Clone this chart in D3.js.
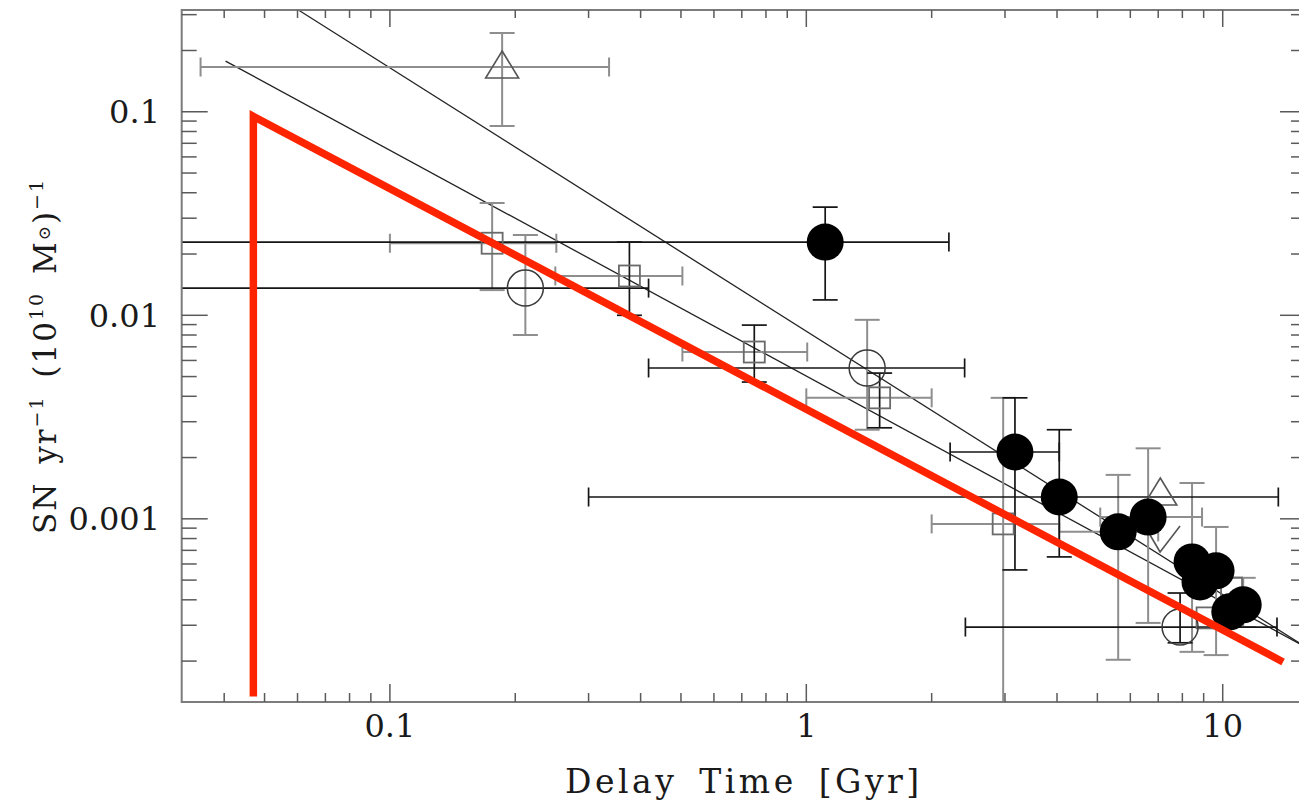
<!DOCTYPE html>
<html><head><meta charset="utf-8">
<script src="https://cdn.jsdelivr.net/npm/d3@7"></script>
<style>html,body{margin:0;padding:0;background:#fff;} svg{display:block;}</style>
</head><body>
<svg id="chart" width="1299" height="804"></svg>
<script>
// ---- axis ranges and tick labels ----
const xDomain = [Math.pow(10, -1.5), Math.pow(10, 1.2)];
const yDomain = [Math.pow(10, -3.9), Math.pow(10, -0.5)];
const xMajorTicks = [0.1, 1, 10];
const xMajorLabels = ["0.1", "1", "10"];
const yMajorTicks = [0.1, 0.01, 0.001];
const yMajorLabels = ["0.1", "0.01", "0.001"];

// ---- power-law fits, endpoints as [delay Gyr, rate] ----
const fitSteep = [[0.0603, 0.316], [15.85, 0.000234]];
const fitShallow = [[0.0403, 0.1774], [15.85, 0.000234]];
// model delay-time distribution (red)
const modelDTD = [[0.047, 0.000134], [0.047, 0.095], [13.96, 0.000198]];

// ---- measurements: [t, rate, tLo, tHi, rLo, rHi, xBarColour, yBarColour] ----
// "k" = black bars, "g" = grey bars, null = no bar
const filledCircles = [
  [1.11, 0.0229, 0.02, 2.20, 0.0119, 0.034, "k", "k"],
  [3.17, 0.00213, 2.215, 4.05, 0.000561, 0.00393, "k", "k"],
  [4.05, 0.00128, 0.30, 13.6, 0.00065, 0.00274, "k", "k"],
  [5.61, 0.000863, 4.05, 7.0, 0.000203, 0.001644, "g", "g"],
  [6.62, 0.00102, 5.08, 8.92, 0.000308, 0.00222, "g", "g"],
  [8.44, 0.000614, null, null, 0.000222, 0.0015, null, "g"],
  [8.82, 0.000490, null, null, null, null, null, null],
  [9.64, 0.000555, null, null, 0.000214, 0.000912, null, "g"],
  [10.4, 0.000349, null, null, null, null, null, null],
  [11.2, 0.000378, null, null, 0.000294, 0.000513, null, "g"]
];
const openCircles = [
  [0.2115, 0.0136, 0.02, 0.418, 0.0080, 0.0248, "k", "g"],
  [1.40, 0.00551, 0.418, 2.40, 0.00274, 0.0095, "k", "g"],
  [7.90, 0.000294, 2.41, 13.5, 0.000246, 0.000432, "k", "k"]
];
const openSquares = [
  [0.176, 0.0226, 0.1, 0.251, 0.0133, 0.0356, "g", "g"],
  [0.376, 0.0156, 0.2496, 0.504, 0.0100, 0.0229, "g", "k"],
  [0.75, 0.0066, 0.504, 1.005, 0.0047, 0.00895, "g", "k"],
  [1.50, 0.00393, 1.0, 2.0, 0.0028, 0.0052, "g", "k"],
  [2.97, 0.000944, 2.0, 4.05, 0.00008, 0.00393, "g", "g"],
  [9.17, 0.000326, null, null, null, null, null, null],
  [10.5, 0.000457, null, null, null, null, null, null]
];
const openTriangles = [
  [0.186, 0.166, 0.0351, 0.336, 0.0851, 0.2438, "g", "g"],
  [7.08, 0.001324, null, null, null, null, null, null]
];
const openChecks = [
  [7.15, 0.000787]
];

// ---- layout ----
const plot = {left: 181.7, right: 1306, top: 10, bottom: 702};
const svg = d3.select("#chart");
const x = d3.scaleLog().domain(xDomain).range([plot.left, plot.right]);
const y = d3.scaleLog().domain(yDomain).range([plot.bottom, plot.top]);

const FONT = "'DejaVu Serif', serif";
const BLACK = "#151515", GREY = "#8e8e8e";
const barColour = c => c === "k" ? BLACK : GREY;

svg.append("defs").append("clipPath").attr("id", "plotClip")
  .append("rect").attr("x", plot.left).attr("y", plot.top)
  .attr("width", plot.right - plot.left).attr("height", plot.bottom - plot.top);

const inner = svg.append("g").attr("clip-path", "url(#plotClip)");

// ---- fits ----
const line = d3.line().x(d => x(d[0])).y(d => y(d[1]));
[fitSteep, fitShallow].forEach(f => {
  inner.append("path").datum(f).attr("d", line)
    .attr("fill", "none").attr("stroke", "#222").attr("stroke-width", 1.3);
});

// ---- error bars ----
const allPts = [].concat(filledCircles, openCircles, openSquares, openTriangles);
const bars = inner.append("g").attr("fill", "none");
function drawBars(colourKey) {
  allPts.forEach(p => {
    const [t, r, tLo, tHi, rLo, rHi, xc, yc] = p;
    const cx = x(t), cy = y(r);
    if (xc === colourKey && tLo != null) {
      const col = barColour(xc), w = xc === "k" ? 1.7 : 2;
      bars.append("line").attr("x1", x(tLo)).attr("x2", x(tHi)).attr("y1", cy).attr("y2", cy)
        .attr("stroke", col).attr("stroke-width", w);
      [tLo, tHi].forEach(v => bars.append("line").attr("x1", x(v)).attr("x2", x(v))
        .attr("y1", cy - 9.5).attr("y2", cy + 9.5).attr("stroke", col).attr("stroke-width", w));
    }
    if (yc === colourKey && rLo != null) {
      const col = barColour(yc), w = yc === "k" ? 1.7 : 2;
      bars.append("line").attr("x1", cx).attr("x2", cx).attr("y1", y(rLo)).attr("y2", y(rHi))
        .attr("stroke", col).attr("stroke-width", w);
      [rLo, rHi].forEach(v => bars.append("line").attr("x1", cx - 12.5).attr("x2", cx + 12.5)
        .attr("y1", y(v)).attr("y2", y(v)).attr("stroke", col).attr("stroke-width", w));
    }
  });
}
drawBars("g");
drawBars("k");

// ---- open markers ----
inner.append("g").selectAll("rect").data(openSquares).join("rect")
  .attr("x", d => x(d[0]) - 10.5).attr("y", d => y(d[1]) - 10.5)
  .attr("width", 21).attr("height", 21)
  .attr("fill", "none").attr("stroke", "#6a6a6a").attr("stroke-width", 1.8);

inner.append("g").selectAll("circle").data(openCircles).join("circle")
  .attr("cx", d => x(d[0])).attr("cy", d => y(d[1])).attr("r", 18)
  .attr("fill", "none").attr("stroke", "#3a3a3a").attr("stroke-width", 1.5);

inner.append("g").selectAll("path.tri").data(openTriangles).join("path")
  .attr("class", "tri")
  .attr("d", d => { const cx = x(d[0]), cy = y(d[1]);
    return `M${cx},${cy - 16}L${cx + 16.5},${cy + 11}L${cx - 16.5},${cy + 11}Z`; })
  .attr("fill", "none").attr("stroke", "#555").attr("stroke-width", 1.6);

inner.append("g").selectAll("path.chk").data(openChecks).join("path")
  .attr("class", "chk")
  .attr("d", d => { const cx = x(d[0]), cy = y(d[1]);
    return `M${cx - 12},${cy - 5}L${cx - 2},${cy + 12}L${cx + 18},${cy - 14}`; })
  .attr("fill", "none").attr("stroke", "#555").attr("stroke-width", 1.6);

// ---- filled circles ----
inner.append("g").selectAll("circle").data(filledCircles).join("circle")
  .attr("cx", d => x(d[0])).attr("cy", d => y(d[1])).attr("r", 18.5)
  .attr("fill", "#000");

// ---- model DTD ----
inner.append("path").datum(modelDTD).attr("d", line)
  .attr("fill", "none").attr("stroke", "#ff2400").attr("stroke-width", 7.5)
  .attr("stroke-linejoin", "miter").attr("stroke-miterlimit", 10);

// ---- frame and ticks ----
const frame = svg.append("g");
const AX = "#7c7c7c", TK = "#5a5a5a";
frame.append("rect").attr("x", plot.left).attr("y", plot.top)
  .attr("width", plot.right - plot.left).attr("height", plot.bottom - plot.top)
  .attr("fill", "none").attr("stroke", AX).attr("stroke-width", 2);

const xAll = x.ticks();
const yAll = y.ticks();
const isMajorX = v => xMajorTicks.some(m => Math.abs(m - v) / m < 1e-6);
const isMajorY = v => yMajorTicks.some(m => Math.abs(m - v) / m < 1e-6);

xAll.forEach(v => {
  const px = x(v), big = isMajorX(v);
  frame.append("line").attr("x1", px).attr("x2", px)
    .attr("y1", plot.bottom).attr("y2", plot.bottom - (big ? 18 : 9))
    .attr("stroke", TK).attr("stroke-width", 1.5);
  frame.append("line").attr("x1", px).attr("x2", px)
    .attr("y1", plot.top).attr("y2", plot.top + (big ? 17 : 8))
    .attr("stroke", TK).attr("stroke-width", 1.5);
});
yAll.forEach(v => {
  const py = y(v), big = isMajorY(v);
  frame.append("line").attr("x1", plot.left).attr("x2", plot.left + (big ? 26 : 15))
    .attr("y1", py).attr("y2", py).attr("stroke", TK).attr("stroke-width", 1.5);
  frame.append("line").attr("x1", plot.right).attr("x2", plot.right - (big ? 26 : 15))
    .attr("y1", py).attr("y2", py).attr("stroke", TK).attr("stroke-width", 1.5);
});

// ---- tick labels ----
svg.append("g").selectAll("text").data(xMajorTicks).join("text")
  .attr("x", d => x(d)).attr("y", 737)
  .attr("text-anchor", "middle").attr("font-family", FONT).attr("font-size", 32)
  .attr("fill", "#1a1a1a")
  .text((d, i) => xMajorLabels[i]);

svg.append("g").selectAll("text").data(yMajorTicks).join("text")
  .attr("x", 160).attr("y", d => y(d)).attr("dy", "0.36em")
  .attr("text-anchor", "end").attr("font-family", FONT).attr("font-size", 32)
  .attr("fill", "#1a1a1a")
  .text((d, i) => yMajorLabels[i]);

// ---- axis titles ----
svg.append("text")
  .attr("x", (plot.left + plot.right) / 2).attr("y", 793)
  .attr("text-anchor", "middle").attr("font-family", FONT).attr("font-size", 33)
  .attr("letter-spacing", 3.5).attr("word-spacing", 8).attr("fill", "#1a1a1a")
  .text("Delay Time [Gyr]");

const yt = svg.append("text")
  .attr("transform", `translate(56,${(plot.top + plot.bottom) / 2}) rotate(-90)`)
  .attr("text-anchor", "middle").attr("font-family", FONT).attr("font-size", 31)
  .attr("letter-spacing", 2).attr("word-spacing", 6).attr("fill", "#1a1a1a");
yt.append("tspan").text("SN yr");
yt.append("tspan").attr("dy", -13).attr("font-size", 19).text("−1");
yt.append("tspan").attr("dy", 13).text(" (10");
yt.append("tspan").attr("dy", -13).attr("font-size", 19).text("10");
yt.append("tspan").attr("dy", 13).text(" M");
yt.append("tspan").attr("dy", -6).attr("font-size", 17).text("⊙");
yt.append("tspan").attr("dy", 6).text(")");
yt.append("tspan").attr("dy", -13).attr("font-size", 19).text("−1");
</script>
</body></html>
